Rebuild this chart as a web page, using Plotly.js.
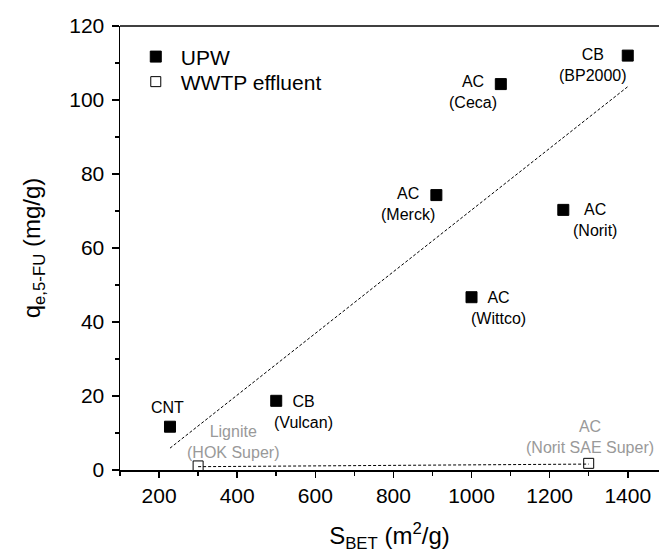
<!DOCTYPE html>
<html>
<head>
<meta charset="utf-8">
<script src="https://cdn.plot.ly/plotly-3.0.1.min.js"></script>
<style>html,body{margin:0;padding:0;background:#fff;}#chart{width:659px;height:553px;}</style>
</head>
<body>
<div id="chart"></div>
<script>
// UPW data
const upwLabels = ["CNT", "CB<br>(Vulcan)", "AC<br>(Merck)", "AC<br>(Wittco)", "AC<br>(Ceca)", "AC<br>(Norit)", "CB<br>(BP2000)"];
const upwSBET = [228, 500, 910, 1000, 1075, 1235, 1400];
const upwQ = [11.7, 18.7, 74.3, 46.7, 104.3, 70.3, 112];
// WWTP effluent data
const wwtpLabels = ["Lignite<br>(HOK Super)", "AC<br>(Norit SAE Super)"];
const wwtpSBET = [300, 1300];
const wwtpQ = [1.1, 1.8];
// fit lines (endpoints)
const upwFitX = [228, 1400];
const upwFitY = [5.9, 103.6];
const wwtpFitX = [300, 1300];
const wwtpFitY = [0.9, 1.6];

const FONT = "Arial, 'Liberation Sans', sans-serif";

// label offsets (px) relative to each marker
const upwOffsets = [[-2, 19], [27, -11], [-28, -8.5], [27, -11], [-28, -8], [32, -10.5], [-35, -9.5]];
const wwtpOffsets = [[35, 23.6], [1.5, 26]];

const traces = [
  {x: upwFitX, y: upwFitY, mode: "lines", line: {color: "#000", width: 1, dash: "3px,2px"}, showlegend: false, hoverinfo: "skip"},
  {x: wwtpFitX, y: wwtpFitY, mode: "lines", line: {color: "#000", width: 1, dash: "3px,2px"}, showlegend: false, hoverinfo: "skip"},
  {x: upwSBET, y: upwQ, mode: "markers", name: "UPW", legend: "legend",
   marker: {symbol: "square", size: 11, color: "#000", line: {color: "#000", width: 1}}},
  {x: wwtpSBET, y: wwtpQ, mode: "markers", name: "WWTP effluent", legend: "legend2",
   marker: {symbol: "square-open", size: 10, color: "#000", line: {color: "#000", width: 1}}}
];

const annotations = [];
upwSBET.forEach((xv, i) => annotations.push({
  x: xv, y: upwQ[i], xref: "x", yref: "y", text: upwLabels[i], showarrow: false,
  xanchor: "center", yanchor: "middle", align: "center",
  xshift: upwOffsets[i][0], yshift: upwOffsets[i][1],
  font: {family: FONT, size: 16, color: "#000"}
}));
wwtpSBET.forEach((xv, i) => annotations.push({
  x: xv, y: wwtpQ[i], xref: "x", yref: "y", text: wwtpLabels[i], showarrow: false,
  xanchor: "center", yanchor: "middle", align: "center",
  xshift: wwtpOffsets[i][0], yshift: wwtpOffsets[i][1],
  font: {family: FONT, size: 16, color: "#999"}
}));

const legendBase = {xanchor: "left", yanchor: "middle", bgcolor: "rgba(0,0,0,0)",
  font: {family: FONT, size: 21, color: "#000"}, itemwidth: 40, borderwidth: 0};

const layout = {
  width: 659, height: 553,
  margin: {l: 120, r: 0, t: 26, b: 83},
  paper_bgcolor: "#fff", plot_bgcolor: "#fff",
  font: {family: FONT, color: "#000"},
  showlegend: true,
  legend: Object.assign({}, legendBase, {x: 0.02, y: 0.9303}),
  legend2: Object.assign({}, legendBase, {x: 0.02, y: 0.8739}),
  xaxis: {
    range: [100, 1480], tickmode: "array", tickvals: [200, 400, 600, 800, 1000, 1200, 1400],
    ticks: "outside", ticklen: 6, tickwidth: 1.5, tickcolor: "#000",
    minor: {tickvals: [100, 300, 500, 700, 900, 1100, 1300], ticks: "outside", ticklen: 4, tickwidth: 1.5, tickcolor: "#000"},
    showline: true, linecolor: "#000", linewidth: 1.5, showgrid: false, zeroline: false,
    tickfont: {family: FONT, size: 21, color: "#000"},
    title: {text: "S<sub>BET</sub> (m<sup>2</sup>/g)", font: {family: FONT, size: 24, color: "#000"}, standoff: 26}
  },
  yaxis: {
    range: [0, 120], tickmode: "array", tickvals: [0, 20, 40, 60, 80, 100, 120],
    ticks: "outside", ticklen: 7, tickwidth: 1.5, tickcolor: "#000", ticklabelstandoff: 3,
    minor: {tickvals: [10, 30, 50, 70, 90, 110], ticks: "outside", ticklen: 4, tickwidth: 1.5, tickcolor: "#000"},
    showline: true, linecolor: "#000", linewidth: 1.5, showgrid: false, zeroline: false,
    tickfont: {family: FONT, size: 21, color: "#000"},
    title: {text: "q<sub>e,5-FU</sub> (mg/g)", font: {family: FONT, size: 24, color: "#000"}, standoff: 22}
  },
  shapes: [{type: "line", xref: "paper", yref: "paper", x0: 0, x1: 1, y0: 1, y1: 1, line: {color: "#000", width: 1.5}}],
  annotations: annotations
};

Plotly.newPlot("chart", traces, layout, {displayModeBar: false, staticPlot: true});
</script>
</body>
</html>
